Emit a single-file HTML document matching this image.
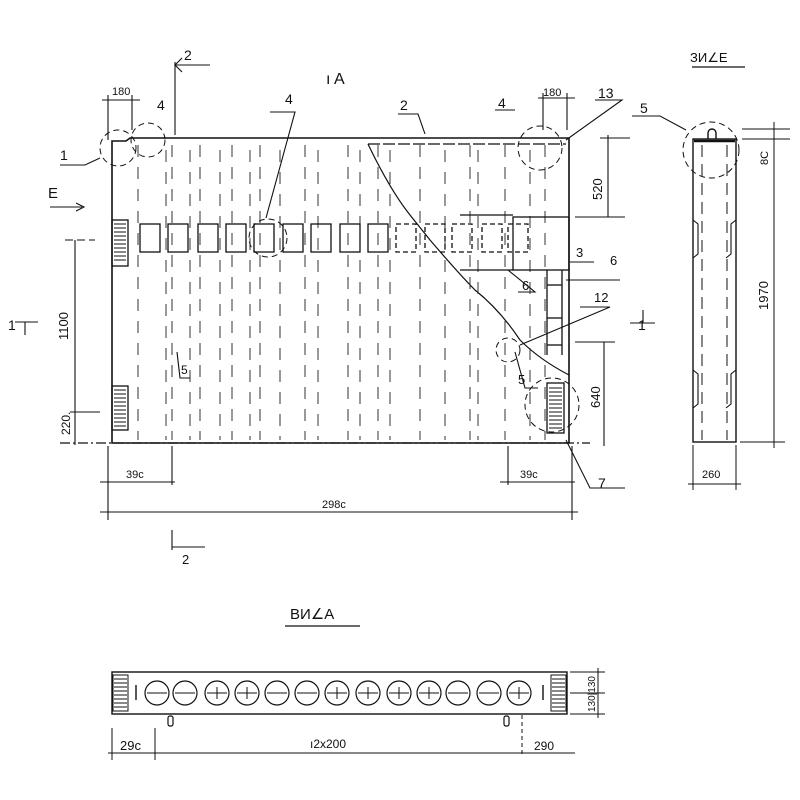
<!DOCTYPE html>
<html><head><style>body{margin:0;background:#fff}svg{display:block}text{font-family:"Liberation Sans",sans-serif;fill:#111}</style></head><body>
<svg width="800" height="800" viewBox="0 0 800 800" xmlns="http://www.w3.org/2000/svg" stroke="#111" fill="none" stroke-width="1.3">
<path d="M112 141 L126 141 L130 138 L569 138 L569 443 L112 443 Z" stroke-width="1.6"/>
<line x1="60" y1="443" x2="590" y2="443" stroke-dasharray="10 3 2 3"/>
<line x1="368" y1="144" x2="566" y2="144" stroke-dasharray="12 3"/>
<path d="M368 144 Q390 190 410 215 L430 240 Q460 275 475 290 Q500 310 520 340 Q540 360 569 375" stroke-width="1.2"/>
<g stroke-dasharray="12 10" stroke-width="1" stroke="#333">
<line x1="138" y1="145" x2="138" y2="440"/><line x1="166" y1="150" x2="166" y2="440"/><line x1="172" y1="145" x2="172" y2="440"/>
<line x1="190" y1="150" x2="190" y2="440"/><line x1="200" y1="145" x2="200" y2="440"/><line x1="220" y1="150" x2="220" y2="440"/>
<line x1="232" y1="145" x2="232" y2="440"/><line x1="250" y1="150" x2="250" y2="440"/><line x1="260" y1="145" x2="260" y2="440"/>
<line x1="280" y1="150" x2="280" y2="440"/><line x1="305" y1="145" x2="305" y2="440"/>
<line x1="318" y1="150" x2="318" y2="440"/><line x1="348" y1="145" x2="348" y2="440"/>
<line x1="360" y1="150" x2="360" y2="440"/><line x1="378" y1="145" x2="378" y2="440"/><line x1="390" y1="150" x2="390" y2="440"/>
<line x1="420" y1="145" x2="420" y2="440"/><line x1="445" y1="150" x2="445" y2="440"/>
<line x1="470" y1="145" x2="470" y2="440"/><line x1="478" y1="150" x2="478" y2="440"/><line x1="505" y1="145" x2="505" y2="440"/>
<line x1="530" y1="150" x2="530" y2="440"/><line x1="545" y1="145" x2="545" y2="440"/>
</g>
<g stroke-width="1.3">
<rect x="140" y="224" width="20" height="28"/><rect x="168" y="224" width="20" height="28"/><rect x="198" y="224" width="20" height="28"/>
<rect x="226" y="224" width="20" height="28"/><rect x="254" y="224" width="20" height="28"/><rect x="283" y="224" width="20" height="28"/>
<rect x="311" y="224" width="20" height="28"/><rect x="340" y="224" width="20" height="28"/><rect x="368" y="224" width="20" height="28"/>
<rect x="396" y="224" width="20" height="28" stroke-dasharray="5 3"/><rect x="425" y="224" width="20" height="28" stroke-dasharray="5 3"/>
<rect x="452" y="224" width="20" height="28" stroke-dasharray="5 3"/><rect x="482" y="224" width="20" height="28" stroke-dasharray="5 3"/>
<rect x="508" y="224" width="20" height="28" stroke-dasharray="5 3"/>
</g>
<rect x="513" y="217" width="56" height="53"/>
<line x1="460" y1="215" x2="513" y2="215"/><line x1="460" y1="270" x2="513" y2="270"/>
<line x1="547" y1="270" x2="547" y2="355"/><line x1="562" y1="270" x2="562" y2="355"/>
<line x1="547" y1="285" x2="562" y2="285"/><line x1="547" y1="318" x2="562" y2="318"/><line x1="547" y1="345" x2="562" y2="345"/>
<g>
<rect x="112" y="220" width="16" height="46"/><rect x="112" y="386" width="16" height="44"/><rect x="547" y="383" width="17" height="50"/>
<path d="M114 224h12M114 228h12M114 232h12M114 236h12M114 240h12M114 244h12M114 248h12M114 252h12M114 256h12M114 260h12 M114 390h12M114 394h12M114 398h12M114 402h12M114 406h12M114 410h12M114 414h12M114 418h12M114 422h12M114 426h12 M549 388h13M549 392h13M549 396h13M549 400h13M549 404h13M549 408h13M549 412h13M549 416h13M549 420h13M549 424h13M549 428h13" stroke-width="1"/>
</g>
<g stroke-dasharray="6 4" stroke-width="1">
<circle cx="118" cy="148" r="18"/><circle cx="148" cy="140" r="17"/><circle cx="268" cy="238" r="19"/>
<circle cx="540" cy="148" r="22"/><circle cx="508" cy="350" r="12"/><circle cx="552" cy="405" r="27"/>
<circle cx="711" cy="150" r="28"/>
</g>
<g stroke-width="1.1">
<path d="M60 165 L85 165 L100 158"/><path d="M270 112 L295 112 L266 218"/><path d="M398 114 L418 114 L425 134"/>
<path d="M495 110 L515 110"/><path d="M595 100 L622 100 L566 140"/><path d="M570 262 L594 262"/><path d="M566 280 L620 280"/>
<path d="M518 292 L535 292 L508 270"/><path d="M580 307 L610 307 L520 345"/><path d="M515 352 L525 388 L538 388"/>
<path d="M177 352 L180 378 L190 378"/><path d="M566 440 L590 488 L625 488"/><path d="M632 116 L660 116 L686 130"/>
</g>
<g stroke-width="1.1">
<line x1="102" y1="100" x2="140" y2="100"/><line x1="108" y1="95" x2="108" y2="140"/><line x1="132" y1="95" x2="132" y2="130"/>
<line x1="538" y1="98" x2="575" y2="98"/><line x1="543" y1="93" x2="543" y2="130"/><line x1="567" y1="93" x2="567" y2="130"/>
<line x1="175" y1="62" x2="175" y2="135"/><path d="M175 65 L210 65"/><path d="M182 58 L175 65 L182 72"/>
<line x1="172" y1="530" x2="172" y2="550"/><path d="M172 547 L205 547"/>
<line x1="50" y1="207" x2="82" y2="207"/><path d="M76 203 L84 207 L76 211"/>
<line x1="15" y1="322" x2="38" y2="322"/><line x1="25" y1="322" x2="25" y2="335"/>
<line x1="630" y1="323" x2="655" y2="323"/><line x1="643" y1="310" x2="643" y2="323"/>
<line x1="75" y1="240" x2="75" y2="445"/><line x1="70" y1="412" x2="100" y2="412"/><line x1="65" y1="240" x2="95" y2="240" stroke-dasharray="8 4"/>
<line x1="600" y1="138" x2="630" y2="138"/><line x1="608" y1="135" x2="608" y2="217"/><line x1="575" y1="217" x2="625" y2="217"/>
<line x1="604" y1="342" x2="604" y2="446"/><line x1="575" y1="342" x2="615" y2="342"/>
<line x1="108" y1="446" x2="108" y2="520"/><line x1="572" y1="446" x2="572" y2="520"/><line x1="172" y1="446" x2="172" y2="485"/><line x1="508" y1="446" x2="508" y2="485"/>
<line x1="100" y1="482" x2="175" y2="482"/><line x1="500" y1="482" x2="575" y2="482"/><line x1="100" y1="512" x2="578" y2="512"/>
</g>
<g stroke-width="1.4">
<rect x="693" y="139" width="43" height="303"/>
<line x1="694" y1="141" x2="735" y2="141" stroke-width="2.5"/>
<path d="M708 139 v-6 a4 4 0 0 1 8 0 v6"/>
<path d="M693 220 l5 4 v30 l-5 4 M736 220 l-5 4 v30 l-5 4 M693 370 l5 4 v30 l-5 4 M736 370 l-5 4 v30 l-5 4" stroke-width="1.1"/>
<line x1="702" y1="145" x2="702" y2="440" stroke-dasharray="12 7" stroke-width="1"/><line x1="727" y1="145" x2="727" y2="440" stroke-dasharray="12 7" stroke-width="1"/>
<line x1="742" y1="129" x2="790" y2="129" stroke-width="1"/><line x1="742" y1="139" x2="790" y2="139" stroke-width="1"/><line x1="740" y1="442" x2="785" y2="442" stroke-width="1"/>
<line x1="774" y1="122" x2="774" y2="448" stroke-width="1"/>
<line x1="693" y1="445" x2="693" y2="490" stroke-width="1"/><line x1="736" y1="445" x2="736" y2="490" stroke-width="1"/><line x1="688" y1="484" x2="741" y2="484" stroke-width="1"/>
<line x1="692" y1="67" x2="745" y2="67" stroke-width="1.2"/>
</g>
<g stroke-width="1.4">
<rect x="112" y="672" width="455" height="42"/>
<rect x="113" y="675" width="15" height="36" stroke-width="1"/><rect x="551" y="675" width="15" height="36" stroke-width="1"/>
<path d="M114 679h13M114 683h13M114 687h13M114 691h13M114 695h13M114 699h13M114 703h13M114 707h13M552 679h13M552 683h13M552 687h13M552 691h13M552 695h13M552 699h13M552 703h13M552 707h13" stroke-width="1"/>
<line x1="136" y1="685" x2="136" y2="700"/><line x1="543" y1="685" x2="543" y2="700"/>
<g stroke-width="1.2">
<circle cx="157" cy="693" r="12"/><circle cx="185" cy="693" r="12"/><circle cx="217" cy="693" r="12"/><circle cx="247" cy="693" r="12"/>
<circle cx="277" cy="693" r="12"/><circle cx="307" cy="693" r="12"/><circle cx="337" cy="693" r="12"/><circle cx="368" cy="693" r="12"/>
<circle cx="399" cy="693" r="12"/><circle cx="429" cy="693" r="12"/><circle cx="458" cy="693" r="12"/><circle cx="489" cy="693" r="12"/><circle cx="519" cy="693" r="12"/>
<path d="M147 693h20M175 693h20M207 693h20M237 693h20M267 693h20M297 693h20M327 693h20M358 693h20M389 693h20M419 693h20M448 693h20M479 693h20M509 693h20 M217 687v12M247 687v12M337 687v12M368 687v12M399 687v12M429 687v12M519 687v12" stroke-width="1"/>
</g>
<rect x="168" y="716" width="5" height="10" rx="2" stroke-width="1.2"/><rect x="504" y="716" width="5" height="10" rx="2" stroke-width="1.2"/>
<line x1="570" y1="672" x2="605" y2="672" stroke-width="1"/><line x1="570" y1="693" x2="605" y2="693" stroke-width="1"/><line x1="570" y1="714" x2="605" y2="714" stroke-width="1"/>
<line x1="598" y1="668" x2="598" y2="718" stroke-width="1"/>
<line x1="112" y1="728" x2="112" y2="760" stroke-width="1"/><line x1="155" y1="728" x2="155" y2="760" stroke-width="1"/><line x1="522" y1="715" x2="522" y2="755" stroke-width="1" stroke-dasharray="4 3"/>
<line x1="108" y1="753" x2="575" y2="753" stroke-width="1"/>
<line x1="285" y1="626" x2="360" y2="626" stroke-width="1.2"/>
</g>
<g stroke="none" font-size="13">
<text x="184" y="60" font-size="14">2</text>
<text x="326" y="84" font-size="16">ı A</text>
<text x="112" y="95" font-size="11">180</text>
<text x="157" y="110" font-size="14">4</text>
<text x="285" y="104" font-size="14">4</text>
<text x="400" y="110" font-size="14">2</text>
<text x="498" y="108" font-size="14">4</text>
<text x="543" y="96" font-size="11">180</text>
<text x="598" y="98" font-size="14">13</text>
<text x="640" y="113" font-size="14">5</text>
<text x="60" y="160" font-size="14">1</text>
<text x="48" y="198" font-size="15">E</text>
<text x="576" y="257" font-size="13">3</text>
<text x="610" y="265" font-size="13">6</text>
<text x="522" y="290" font-size="13">6</text>
<text x="594" y="302" font-size="13">12</text>
<text x="518" y="384" font-size="13">5</text>
<text x="181" y="374" font-size="12">5</text>
<text x="598" y="488" font-size="14">7</text>
<text x="8" y="330" font-size="14">1</text>
<text x="638" y="330" font-size="14">1</text>
<text x="126" y="478" font-size="11">39c</text>
<text x="520" y="478" font-size="11">39c</text>
<text x="322" y="508" font-size="11">298c</text>
<text x="182" y="564" font-size="13">2</text>
<text x="690" y="62" font-size="13">ЗИ∠Е</text>
<text x="702" y="478" font-size="11">260</text>
<text x="290" y="619" font-size="15">ВИ∠А</text>
<text x="120" y="750" font-size="13">29c</text>
<text x="310" y="748" font-size="12">ı2x200</text>
<text x="534" y="750" font-size="12">290</text>
<text transform="translate(68 340) rotate(-90)" font-size="13">1100</text>
<text transform="translate(70 435) rotate(-90)" font-size="12">220.</text>
<text transform="translate(602 200) rotate(-90)" font-size="13">520</text>
<text transform="translate(600 408) rotate(-90)" font-size="13">640</text>
<text transform="translate(768 310) rotate(-90)" font-size="13">1970</text>
<text transform="translate(768 165) rotate(-90)" font-size="11">8C</text>
<text transform="translate(595 712) rotate(-90)" font-size="10">130|130</text>
</g>
</svg>
</body></html>
